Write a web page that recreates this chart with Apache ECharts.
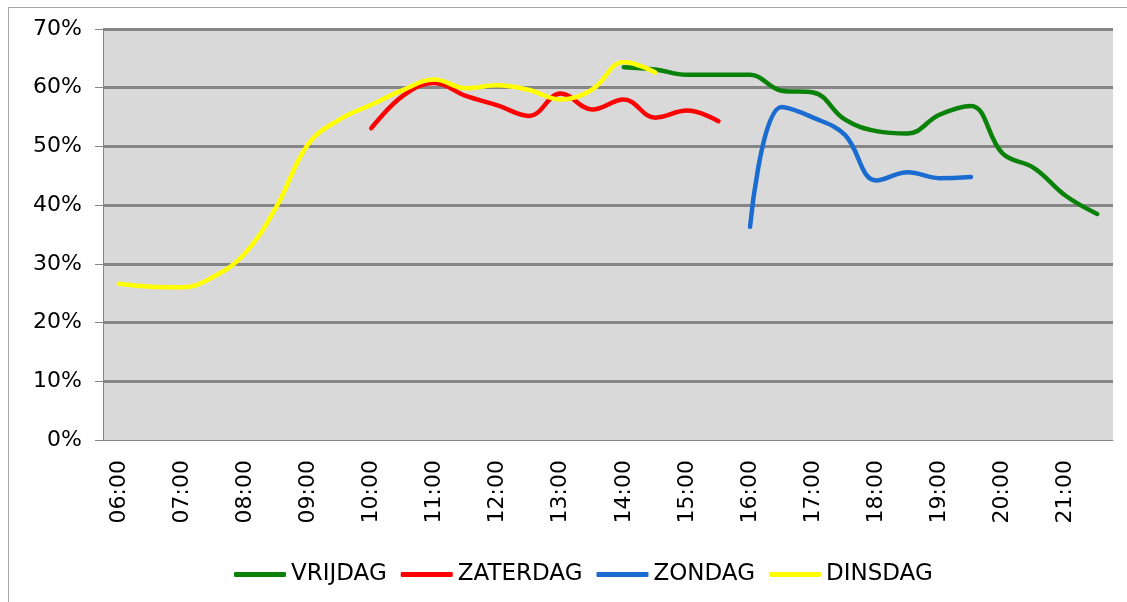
<!DOCTYPE html>
<html>
<head>
<meta charset="utf-8">
<script src="https://cdn.jsdelivr.net/npm/echarts@6/dist/echarts.min.js"></script>
<style>
  html, body { margin: 0; padding: 0; background: #fff; }
  #chart { width: 1127px; height: 602px; }
  .frame {
    position: absolute; left: 8px; top: 7px; right: -2px; bottom: -2px;
    border-left: 1px solid #a6a6a6; border-top: 1px solid #a6a6a6;
    pointer-events: none;
  }
</style>
</head>
<body>
<div id="chart"></div>
<div class="frame"></div>
<script>
// half-hour slots, labels on the full hours
const times = [
  "06:00", "06:30", "07:00", "07:30", "08:00", "08:30", "09:00", "09:30",
  "10:00", "10:30", "11:00", "11:30", "12:00", "12:30", "13:00", "13:30",
  "14:00", "14:30", "15:00", "15:30", "16:00", "16:30", "17:00", "17:30",
  "18:00", "18:30", "19:00", "19:30", "20:00", "20:30", "21:00", "21:30"
];

const seriesNames = ["VRIJDAG", "ZATERDAG", "ZONDAG", "DINSDAG"];

// values in %
const vrijdag = [
  null, null, null, null, null, null, null, null,
  null, null, null, null, null, null, null, null,
  63.5, 63.1, 62.2, 62.2, 62.2, 59.5, 59.2, 54.6,
  52.6, 52.2, 55.4, 56.9, 48.8, 46.3, 41.6, 38.5
];
const zaterdag = [
  null, null, null, null, null, null, null, null,
  53.1, 58.6, 60.8, 58.6, 57.0, 55.2, 59.0, 56.3,
  58.0, 54.9, 56.1, 54.3, null, null, null, null,
  null, null, null, null, null, null, null, null
];
const zondag = [
  null, null, null, null, null, null, null, null,
  null, null, null, null, null, null, null, null,
  null, null, null, null, 36.3, 56.7, 54.9, 52.0,
  44.2, 45.6, 44.6, 44.8, null, null, null, null
];
const dinsdag = [
  26.6, 26.1, 26.0, 27.8, 31.8, 39.8, 50.4, 54.6,
  57.1, 59.6, 61.4, 59.9, 60.4, 59.6, 58.0, 59.7,
  64.4, 62.6, null, null, null, null, null, null,
  null, null, null, null, null, null, null, null
];

const colors = ["#0a820a", "#ff0000", "#1a6cd0", "#ffff00"];
const dataList = [vrijdag, zaterdag, zondag, dinsdag];

const chart = echarts.init(document.getElementById("chart"));

const option = {
  animation: false,
  textStyle: { fontFamily: "DejaVu Sans" },
  grid: {
    left: 103,
    right: 14,
    top: 29,
    bottom: 162,
    show: true,
    backgroundColor: "#d9d9d9",
    borderWidth: 0
  },
  legend: {
    left: 229,
    top: 558,
    itemWidth: 52,
    itemHeight: 5,
    itemGap: 14,
    icon: "roundRect",
    textStyle: { fontSize: 23, color: "#000", fontFamily: "DejaVu Sans" },
    data: seriesNames
  },
  xAxis: {
    type: "category",
    data: times,
    boundaryGap: true,
    axisLine: { lineStyle: { color: "#868686", width: 1 } },
    axisTick: { interval: 0, length: 7, lineStyle: { color: "#868686" } },
    axisLabel: {
      interval: 1,
      rotate: 90,
      margin: 20,
      fontSize: 22,
      color: "#000"
    },
    splitLine: { show: false }
  },
  yAxis: {
    type: "value",
    min: 0,
    max: 70,
    interval: 10,
    axisLine: { show: true, lineStyle: { color: "#868686", width: 1 } },
    axisTick: { show: true, length: 8, lineStyle: { color: "#868686" } },
    axisLabel: {
      formatter: "{value}%",
      margin: 21,
      fontSize: 22,
      color: "#000"
    },
    splitLine: {
      showMinLine: false,
      lineStyle: { color: "#868686", width: 3 }
    }
  },
  series: seriesNames.map((name, i) => ({
    name: name,
    type: "line",
    data: dataList[i],
    smooth: 0.4,
    showSymbol: false,
    symbol: "none",
    connectNulls: false,
    lineStyle: { width: 4.5, color: colors[i], cap: "round" },
    itemStyle: { color: colors[i] }
  }))
};

chart.setOption(option);
</script>
</body>
</html>
